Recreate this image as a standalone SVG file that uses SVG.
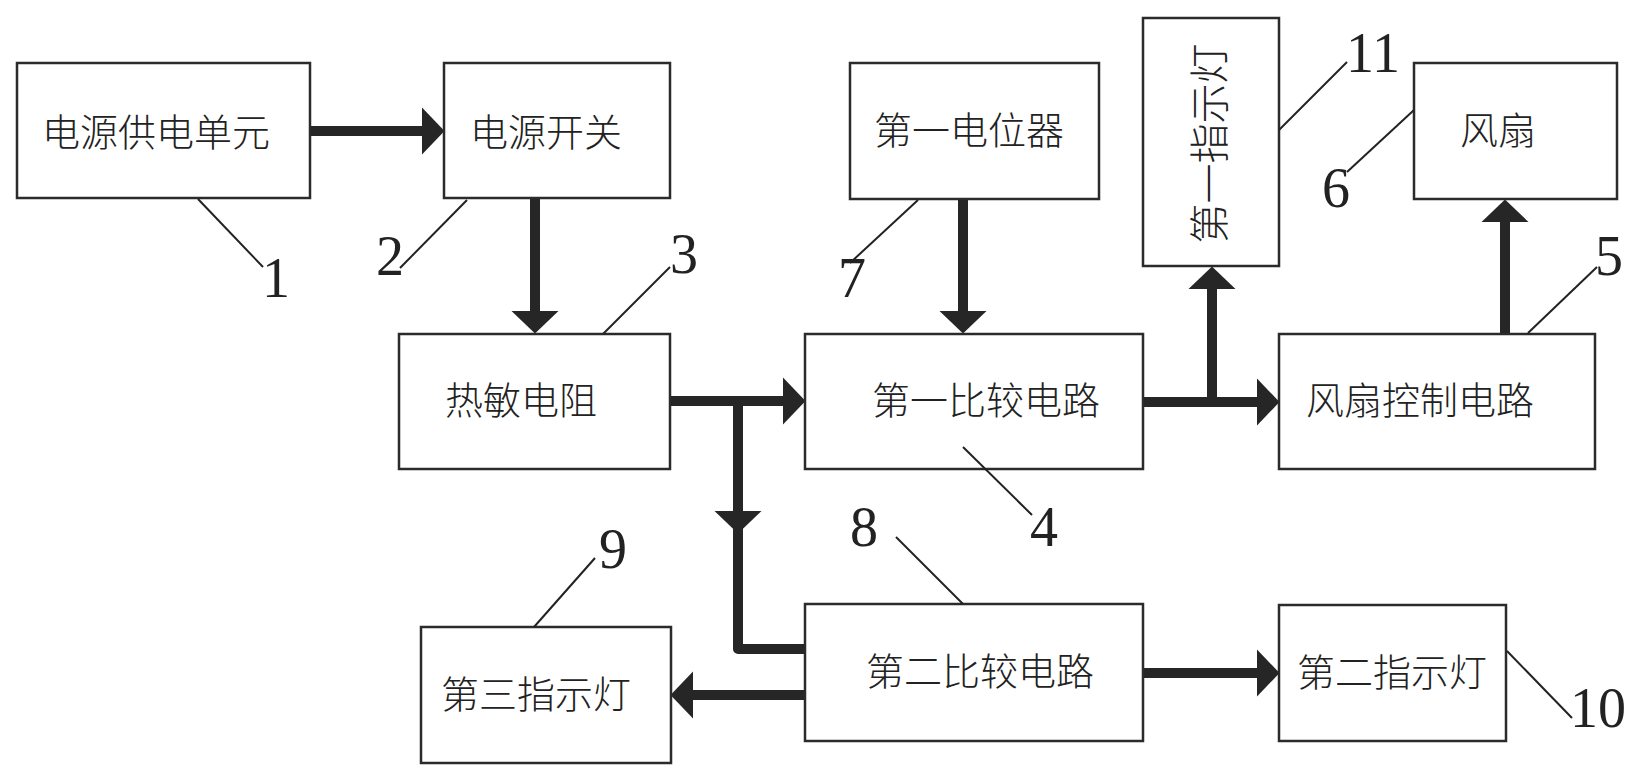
<svg xmlns="http://www.w3.org/2000/svg" width="1645" height="779" viewBox="0 0 1645 779">
<style>
.box{fill:#fff;stroke:#2b2b2b;stroke-width:2.5}
.lbl{font-family:"Noto Sans CJK SC","Noto Sans CJK JP",sans-serif;font-size:38px;font-weight:300;fill:#222;text-anchor:middle}
.num{font-family:"Liberation Serif","Times New Roman",serif;font-size:56px;fill:#222}
.lead{stroke:#222;stroke-width:2;fill:none}
.conn{stroke:#262626;stroke-width:10;fill:none}
.rc{stroke-linecap:round}
</style>
<defs>
<marker id="ah" markerUnits="userSpaceOnUse" markerWidth="23" markerHeight="48" refX="0" refY="23.5" orient="auto" viewBox="0 0 23 47" overflow="visible">
<path d="M0,0 L22.5,23.5 L0,47 Z" fill="#262626"/>
</marker>
</defs>
<rect width="1645" height="779" fill="#fff"/>

<g id="connectors">
<path class="conn rc" d="M310,131 L422,131" marker-end="url(#ah)"/>
<path class="conn rc" d="M535,198 L535,311" marker-end="url(#ah)"/>
<path class="conn" d="M963,199 L963,311" marker-end="url(#ah)"/>
<path class="conn rc" d="M671,401 L783,401" marker-end="url(#ah)"/>
<path class="conn" d="M738,401 L738,511" marker-end="url(#ah)"/>
<path class="conn rc" d="M738,505 L738,649 L806,649" stroke-linejoin="round"/>
<path class="conn rc" d="M1143,402 L1257,402" marker-end="url(#ah)"/>
<path class="conn" d="M1212,402 L1212,289" marker-end="url(#ah)"/>
<path class="conn rc" d="M1505,335 L1505,222" marker-end="url(#ah)"/>
<path class="conn" d="M806,695 L693,695" marker-end="url(#ah)"/>
<path class="conn" d="M1143,673 L1257,673" marker-end="url(#ah)"/>
</g>

<g id="n1">
<rect class="box" x="17" y="63" width="293" height="135"/>
<text class="lbl" x="156" y="146">电源供电单元</text>
<line class="lead" x1="198" y1="199" x2="263" y2="267"/>
<text class="num" x="262" y="297">1</text>
</g>
<g id="n2">
<rect class="box" x="444" y="63" width="226" height="135"/>
<text class="lbl" x="546" y="146">电源开关</text>
<line class="lead" x1="467" y1="200" x2="400" y2="268"/>
<text class="num" x="376" y="275">2</text>
</g>
<g id="n3">
<rect class="box" x="399" y="334" width="271" height="135"/>
<text class="lbl" x="521" y="414">热敏电阻</text>
<line class="lead" x1="603" y1="334" x2="670" y2="267"/>
<text class="num" x="670" y="273">3</text>
</g>
<g id="n7">
<rect class="box" x="850" y="63" width="249" height="136"/>
<text class="lbl" x="969" y="144">第一电位器</text>
<line class="lead" x1="918" y1="200" x2="850" y2="263"/>
<text class="num" x="838" y="297">7</text>
</g>
<g id="n11">
<rect class="box" x="1143" y="18" width="136" height="248"/>
<text class="lbl" style="font-size:40px" transform="translate(1210,143.5) rotate(-90)" x="0" y="14">第一指示灯</text>
<line class="lead" x1="1279" y1="130" x2="1347" y2="62"/>
<text class="num" x="1346" y="72">11</text>
</g>
<g id="n6">
<rect class="box" x="1414" y="63" width="203" height="136"/>
<text class="lbl" x="1498" y="144">风扇</text>
<line class="lead" x1="1414" y1="110" x2="1347" y2="172"/>
<text class="num" x="1322" y="207">6</text>
</g>
<g id="n4">
<rect class="box" x="805" y="334" width="338" height="135"/>
<text class="lbl" x="986" y="414">第一比较电路</text>
<line class="lead" x1="963" y1="447" x2="1032" y2="515"/>
<text class="num" x="1030" y="546">4</text>
</g>
<g id="n5">
<rect class="box" x="1279" y="334" width="316" height="135"/>
<text class="lbl" x="1420" y="414">风扇控制电路</text>
<line class="lead" x1="1528" y1="333" x2="1597" y2="267"/>
<text class="num" x="1595" y="275">5</text>
</g>
<g id="n8">
<rect class="box" x="805" y="604" width="338" height="137"/>
<text class="lbl" x="980" y="685">第二比较电路</text>
<line class="lead" x1="896" y1="537" x2="963" y2="604"/>
<text class="num" x="850" y="546">8</text>
</g>
<g id="n9">
<rect class="box" x="421" y="627" width="250" height="136"/>
<text class="lbl" x="536" y="708">第三指示灯</text>
<line class="lead" x1="595" y1="558" x2="534" y2="627"/>
<text class="num" x="599" y="568">9</text>
</g>
<g id="n10">
<rect class="box" x="1279" y="605" width="227" height="136"/>
<text class="lbl" x="1392" y="686">第二指示灯</text>
<line class="lead" x1="1507" y1="651" x2="1572" y2="718"/>
<text class="num" x="1570" y="727">10</text>
</g>
</svg>
